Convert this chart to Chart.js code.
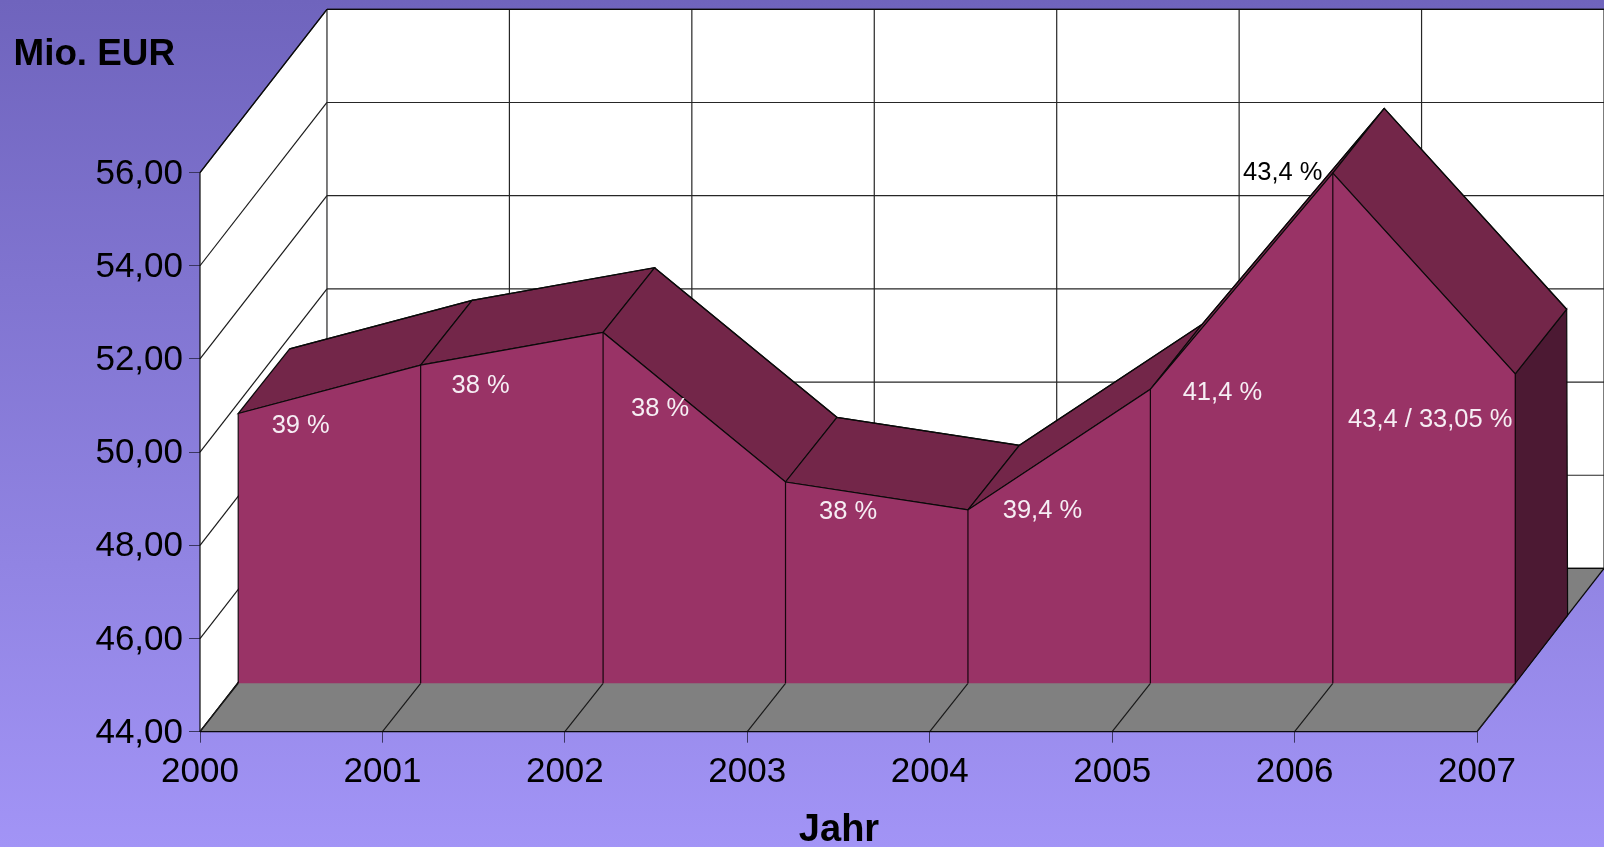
<!DOCTYPE html>
<html>
<head>
<meta charset="utf-8">
<style>
html,body{margin:0;padding:0;width:1604px;height:847px;overflow:hidden;background:linear-gradient(180deg,#6f64bd 0%,#a294f6 100%);}
canvas{display:block;}
</style>
<script src="https://cdn.jsdelivr.net/npm/chart.js@4/dist/chart.umd.min.js"></script>
</head>
<body>
<canvas id="c" width="1604" height="847"></canvas>
<script>
const years = [2000, 2001, 2002, 2003, 2004, 2005, 2006, 2007];
const values = [49.79, 50.83, 51.53, 48.32, 47.72, 50.31, 54.95, 50.64];
const yTicks = [44, 46, 48, 50, 52, 54, 56];
const percentLabels = ['39 %', '38 %', '38 %', '38 %', '39,4 %', '41,4 %', '43,4 %', '43,4 / 33,05 %'];

// Depth of the 3D projection, in data units of the x and y scales
const frontDepth = {x: 0.2095, y: 1.039};
const backDepth = {x: 0.4915, y: 2.427};
const floorBackDepth = {x: 0.4965, y: 2.50};
const wallDepth = {x: 0.696, y: 3.504};
// Label anchor offsets from each front point, in pixels
const labelOffsets = [[62.5, 12], [60, 20.5], [57, 76.5], [62.5, 29.7], [74.5, 1.5], [72, 3.4], [-50, -0.5], [-85, 45.6]];
const labelColors = ['#f6eef4', '#f6eef4', '#f6eef4', '#f6eef4', '#f6eef4', '#f6eef4', '#000', '#f6eef4'];

const FONT = '"Liberation Sans", Arial, sans-serif';
const LINE = '#0a0a0a';

function poly(ctx, pts, fill, stroke) {
  ctx.beginPath();
  pts.forEach((p, i) => i ? ctx.lineTo(p[0], p[1]) : ctx.moveTo(p[0], p[1]));
  ctx.closePath();
  if (fill) { ctx.fillStyle = fill; ctx.fill(); }
  if (stroke) { ctx.strokeStyle = stroke; ctx.lineWidth = 1.2; ctx.stroke(); }
}
function seg(ctx, a, b, color) {
  ctx.beginPath(); ctx.moveTo(a[0], a[1]); ctx.lineTo(b[0], b[1]);
  ctx.strokeStyle = color || LINE; ctx.lineWidth = 1.2; ctx.stroke();
}

const area3d = {
  id: 'area3d',
  beforeDatasetsDraw(chart) {
    const ctx = chart.ctx, sx = chart.scales.x, sy = chart.scales.y;
    const P = (x, y, d) => [sx.getPixelForValue(x + (d ? d.x : 0)), sy.getPixelForValue(y + (d ? d.y : 0))];
    const x0 = years[0], x1 = years[years.length - 1], y0 = yTicks[0], y1 = yTicks[yTicks.length - 1];
    ctx.save();
    // back wall, left wall, floor
    poly(ctx, [P(x0, y0, wallDepth), P(x1, y0, wallDepth), P(x1, y1, wallDepth), P(x0, y1, wallDepth)], '#fff');
    poly(ctx, [P(x0, y0), P(x0, y0, wallDepth), P(x0, y1, wallDepth), P(x0, y1)], '#fff');
    yTicks.forEach(t => {
      seg(ctx, P(x0, t), P(x0, t, wallDepth), '#1a1a1a');
      seg(ctx, P(x0, t, wallDepth), P(x1, t, wallDepth), '#262626');
    });
    years.forEach(v => seg(ctx, P(v, y0, wallDepth), P(v, y1, wallDepth), '#262626'));
    seg(ctx, P(x0, y0), P(x0, y1));
    seg(ctx, P(x0, y1, wallDepth), P(x1, y1, wallDepth));
    seg(ctx, P(x0, y1), P(x0, y1, wallDepth));
    poly(ctx, [P(x0, y0), P(x1, y0), P(x1, y0, wallDepth), P(x0, y0, wallDepth)], '#808080');
    seg(ctx, P(x0, y0), P(x0, y0, wallDepth));
    seg(ctx, P(x1, y0), P(x1, y0, wallDepth));
    seg(ctx, P(x0, y0, wallDepth), P(x1, y0, wallDepth));
    years.forEach(v => seg(ctx, P(v, y0), P(v, y0, frontDepth), '#1a1a1a'));
    seg(ctx, P(x0, y0), P(x1, y0));
    // top faces and the right side face of the area
    const front = chart.getDatasetMeta(0).data, back = chart.getDatasetMeta(1).data;
    const n = values.length;
    poly(ctx, [[front[n-1].x, front[n-1].y], [back[n-1].x, back[n-1].y],
      P(x1, y0, floorBackDepth), P(x1, y0, frontDepth)], '#4c1933', '#0a0a0a');
    for (let i = 0; i < n - 1; i++) {
      poly(ctx, [[front[i].x, front[i].y], [front[i+1].x, front[i+1].y],
        [back[i+1].x, back[i+1].y], [back[i].x, back[i].y]], '#732649', '#0a0a0a');
    }
    ctx.restore();
  },
  afterDatasetsDraw(chart) {
    const ctx = chart.ctx, sy = chart.scales.y;
    const front = chart.getDatasetMeta(0).data;
    const base = sy.getPixelForValue(yTicks[0] + frontDepth.y);
    ctx.save();
    front.forEach(p => seg(ctx, [p.x, p.y], [p.x, base], '#14060d'));
    ctx.textAlign = 'center'; ctx.textBaseline = 'middle';
    ctx.font = '25.5px ' + FONT;
    front.forEach((p, i) => {
      ctx.fillStyle = labelColors[i];
      ctx.fillText(percentLabels[i], p.x + labelOffsets[i][0], p.y + labelOffsets[i][1]);
    });
    ctx.fillStyle = '#000';
    ctx.font = 'bold 36.8px ' + FONT;
    ctx.textAlign = 'left';
    ctx.fillText('Mio. EUR', 13.5, 55);
    ctx.font = 'bold 38px ' + FONT;
    ctx.textAlign = 'center';
    ctx.fillText('Jahr', 839, 831);
    ctx.restore();
  }
};

new Chart(document.getElementById('c'), {
  type: 'line',
  data: {
    datasets: [
      {
        label: 'front',
        data: years.map((v, i) => ({x: v + frontDepth.x, y: values[i] + frontDepth.y})),
        borderColor: '#0a0a0a', borderWidth: 1.2, backgroundColor: '#993366',
        fill: {value: yTicks[0] + frontDepth.y}, pointRadius: 0, tension: 0, clip: false
      },
      {
        label: 'back',
        data: years.map((v, i) => ({x: v + backDepth.x, y: values[i] + backDepth.y})),
        borderColor: '#0a0a0a', borderWidth: 1.2, backgroundColor: 'transparent',
        fill: false, pointRadius: 0, tension: 0, clip: false
      }
    ]
  },
  options: {
    responsive: false,
    animation: false,
    layout: {padding: {left: 0, right: 0, top: 9.3, bottom: 0}},
    plugins: {legend: {display: false}, tooltip: {enabled: false}},
    scales: {
      x: {
        type: 'linear',
        min: years[0],
        max: years[years.length - 1] + wallDepth.x,
        afterBuildTicks: s => { s.ticks = years.map(v => ({value: v})); },
        afterFit: s => { s.height = 847 - 731.7; s.paddingRight = 0; s.paddingLeft = 0; },
        border: {display: false},
        grid: {drawOnChartArea: false, drawTicks: true, tickLength: 11, color: '#3a3560'},
        ticks: {
          autoSkip: false, maxRotation: 0, padding: 9, color: '#000',
          font: {family: FONT, size: 35},
          callback: v => String(v)
        }
      },
      y: {
        type: 'linear',
        min: yTicks[0],
        max: yTicks[yTicks.length - 1] + wallDepth.y,
        afterBuildTicks: s => { s.ticks = yTicks.map(v => ({value: v})); },
        afterFit: s => { s.width = 200; s.paddingTop = 0; s.paddingBottom = 0; },
        border: {display: false},
        grid: {drawOnChartArea: false, drawTicks: true, tickLength: 11, color: '#3a3560'},
        ticks: {
          autoSkip: false, padding: 6, labelOffset: 1.5, color: '#000',
          font: {family: FONT, size: 35},
          callback: v => v.toFixed(2).replace('.', ',')
        }
      }
    }
  },
  plugins: [area3d]
});
</script>
</body>
</html>
